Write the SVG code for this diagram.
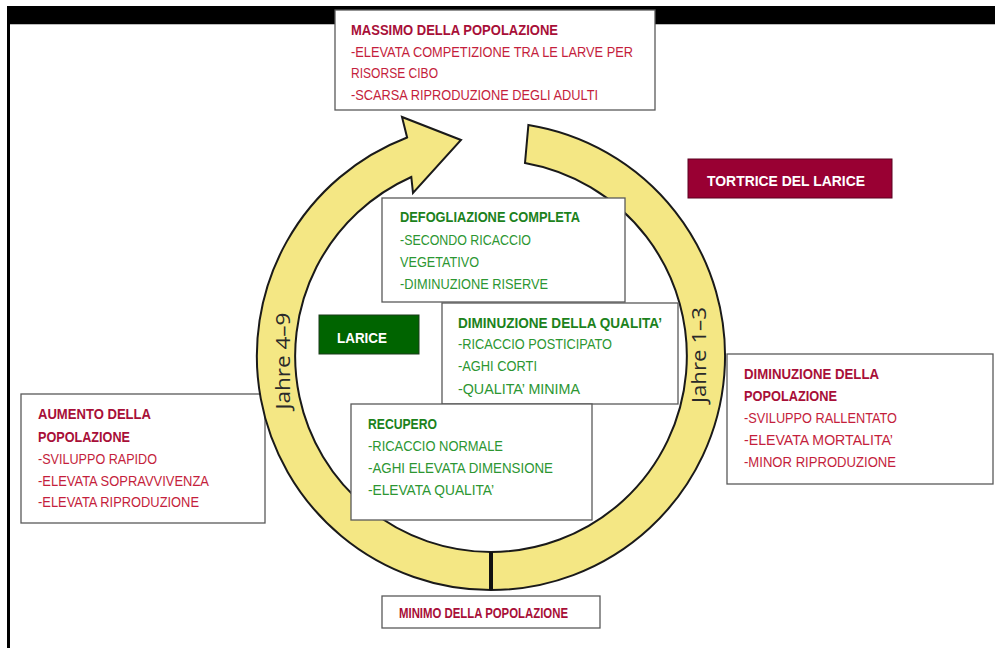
<svg xmlns="http://www.w3.org/2000/svg" width="1000" height="648" viewBox="0 0 1000 648">
<defs>
<style>
.box{fill:#fff;stroke:#595959;stroke-width:1.3}
.t{font-family:"Liberation Sans",Arial,sans-serif;font-size:14.5px}
.rt{fill:#a80f38;font-weight:bold}
.rl{fill:#c41e3c}
.gt{fill:#1c821c;font-weight:bold}
.gl{fill:#2c9632}
.ring{fill:#f4e784;stroke:#1a1a1a;stroke-width:2;stroke-linejoin:miter}
.jahre{font-family:"Open Sans","Liberation Sans",sans-serif;font-size:20px;fill:#2a2a2a}
.lbl{font-family:"Liberation Sans",Arial,sans-serif;font-weight:bold;fill:#fff;font-size:15.5px}
</style>
</defs>
<rect width="1000" height="648" fill="#fff"/>
<g id="frame">
<rect x="7" y="6" width="988" height="18" fill="#000"/>
<line x1="10" y1="24.5" x2="995" y2="24.5" stroke="#bbb" stroke-width="1"/>
<rect x="7" y="6" width="3" height="642" fill="#000"/>
</g>

<g id="aumento">
<rect class="box" x="21" y="394" width="244" height="129"/>
<text class="t rt" x="38" y="419" textLength="113" lengthAdjust="spacingAndGlyphs">AUMENTO DELLA</text>
<text class="t rt" x="38" y="442" textLength="92" lengthAdjust="spacingAndGlyphs">POPOLAZIONE</text>
<text class="t rl" x="38" y="464" textLength="119" lengthAdjust="spacingAndGlyphs">-SVILUPPO RAPIDO</text>
<text class="t rl" x="38" y="486" textLength="171" lengthAdjust="spacingAndGlyphs">-ELEVATA SOPRAVVIVENZA</text>
<text class="t rl" x="38" y="507" textLength="161" lengthAdjust="spacingAndGlyphs">-ELEVATA RIPRODUZIONE</text>
</g>

<g id="connectors">
<path class="ring" d="M 528.4 125 A 234 234 0 0 1 491 590 L 491 552 A 196 196 0 0 0 525 163 Z"/>
<path class="ring" d="M 491 590 A 234 234 0 0 1 407.1 137.5 L 402 117 L 461 140 L 413 193 L 411.3 177 A 196 196 0 0 0 491 552 Z"/>
<line x1="491" y1="552" x2="491" y2="590" stroke="#111" stroke-width="4"/>
<text class="jahre" transform="translate(290,361) rotate(-90)" text-anchor="middle" textLength="97" lengthAdjust="spacingAndGlyphs">Jahre 4–9</text>
<text class="jahre" transform="translate(706,355) rotate(-90)" text-anchor="middle" textLength="96" lengthAdjust="spacingAndGlyphs">Jahre 1–3</text>
</g>

<g id="massimo">
<rect class="box" x="335" y="10" width="320" height="100"/>
<text class="t rt" x="351" y="35" textLength="207" lengthAdjust="spacingAndGlyphs">MASSIMO DELLA POPOLAZIONE</text>
<text class="t rl" x="351" y="57" textLength="282" lengthAdjust="spacingAndGlyphs">-ELEVATA COMPETIZIONE TRA LE LARVE PER</text>
<text class="t rl" x="351" y="78" textLength="87" lengthAdjust="spacingAndGlyphs">RISORSE CIBO</text>
<text class="t rl" x="351" y="100" textLength="247" lengthAdjust="spacingAndGlyphs">-SCARSA RIPRODUZIONE DEGLI ADULTI</text>
</g>

<g id="tortrice">
<rect x="688" y="159" width="204" height="39" fill="#990033" stroke="#5a0020" stroke-width="1"/>
<text class="lbl" x="707" y="186" textLength="158" lengthAdjust="spacingAndGlyphs">TORTRICE DEL LARICE</text>
</g>

<g id="defogliazione">
<rect class="box" x="382" y="198" width="243" height="104"/>
<text class="t gt" x="400" y="222" textLength="180" lengthAdjust="spacingAndGlyphs">DEFOGLIAZIONE COMPLETA</text>
<text class="t gl" x="400" y="245" textLength="131" lengthAdjust="spacingAndGlyphs">-SECONDO RICACCIO</text>
<text class="t gl" x="400" y="267" textLength="79" lengthAdjust="spacingAndGlyphs">VEGETATIVO</text>
<text class="t gl" x="400" y="289" textLength="148" lengthAdjust="spacingAndGlyphs">-DIMINUZIONE RISERVE</text>
</g>

<g id="larice">
<rect x="319" y="315" width="100" height="39" fill="#006400" stroke="#1a3a1a" stroke-width="1"/>
<text class="lbl" x="337" y="343" textLength="50" lengthAdjust="spacingAndGlyphs">LARICE</text>
</g>

<g id="qualita">
<rect class="box" x="442" y="303" width="236" height="101"/>
<text class="t gt" x="458" y="328" textLength="204" lengthAdjust="spacingAndGlyphs">DIMINUZIONE DELLA QUALITA’</text>
<text class="t gl" x="458" y="349" textLength="154" lengthAdjust="spacingAndGlyphs">-RICACCIO POSTICIPATO</text>
<text class="t gl" x="458" y="371" textLength="79" lengthAdjust="spacingAndGlyphs">-AGHI CORTI</text>
<text class="t gl" x="458" y="394" textLength="122" lengthAdjust="spacingAndGlyphs">-QUALITA’ MINIMA</text>
</g>

<g id="recupero">
<rect class="box" x="351" y="404" width="241" height="116"/>
<text class="t gt" x="368" y="429" textLength="69" lengthAdjust="spacingAndGlyphs">RECUPERO</text>
<text class="t gl" x="368" y="451" textLength="135" lengthAdjust="spacingAndGlyphs">-RICACCIO NORMALE</text>
<text class="t gl" x="368" y="473" textLength="185" lengthAdjust="spacingAndGlyphs">-AGHI ELEVATA DIMENSIONE</text>
<text class="t gl" x="368" y="495" textLength="126" lengthAdjust="spacingAndGlyphs">-ELEVATA QUALITA’</text>
</g>

<g id="diminuzione-popolazione">
<rect class="box" x="727" y="354" width="266" height="130"/>
<text class="t rt" x="744" y="379" textLength="135" lengthAdjust="spacingAndGlyphs">DIMINUZIONE DELLA</text>
<text class="t rt" x="744" y="401" textLength="93" lengthAdjust="spacingAndGlyphs">POPOLAZIONE</text>
<text class="t rl" x="744" y="423" textLength="153" lengthAdjust="spacingAndGlyphs">-SVILUPPO RALLENTATO</text>
<text class="t rl" x="744" y="445" textLength="149" lengthAdjust="spacingAndGlyphs">-ELEVATA MORTALITA’</text>
<text class="t rl" x="744" y="467" textLength="152" lengthAdjust="spacingAndGlyphs">-MINOR RIPRODUZIONE</text>
</g>

<g id="minimo">
<rect class="box" x="382" y="596" width="218" height="32"/>
<text class="t rt" x="399" y="618" font-size="13" textLength="169" lengthAdjust="spacingAndGlyphs">MINIMO DELLA POPOLAZIONE</text>
</g>
</svg>
